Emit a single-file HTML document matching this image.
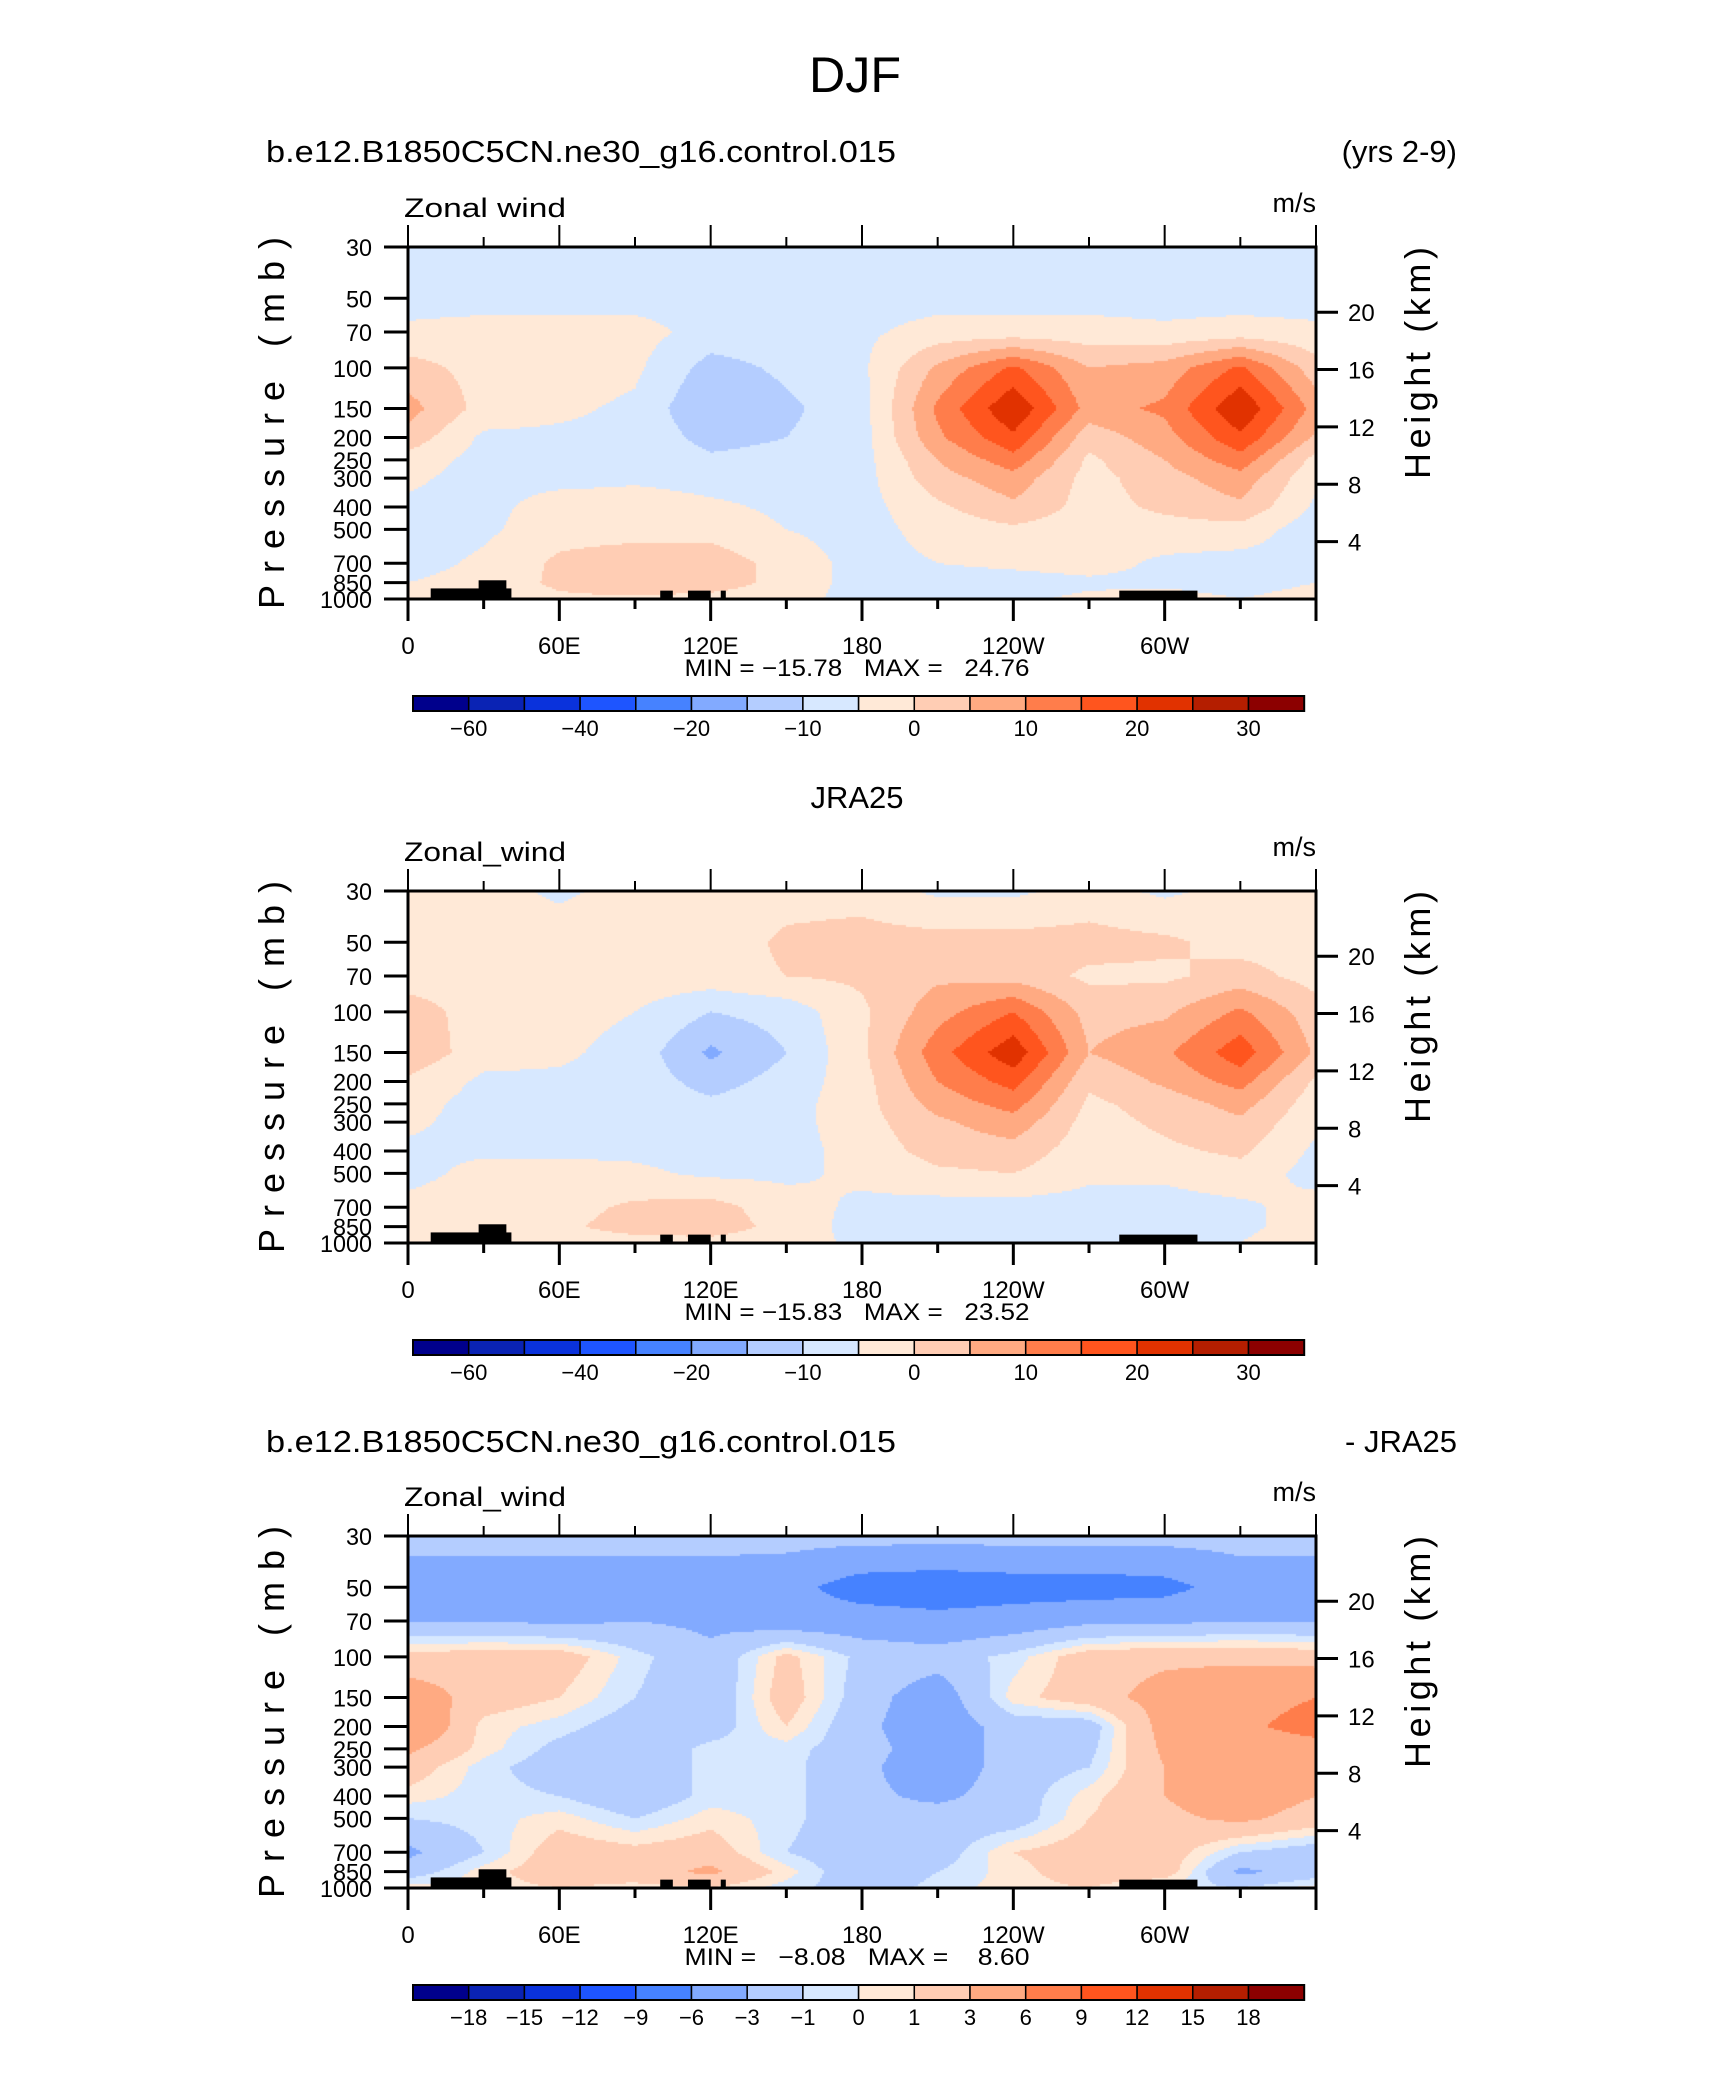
<!DOCTYPE html>
<html><head><meta charset="utf-8"><style>
html,body{margin:0;padding:0;background:#fff;}
#root{position:relative;width:1710px;height:2074px;overflow:hidden;background:#fff;font-family:"Liberation Sans",sans-serif;}
canvas{position:absolute;}
svg{position:absolute;left:0;top:0;}
</style></head><body>
<div id="root">
<canvas id="c1"></canvas>
<canvas id="c2"></canvas>
<canvas id="c3"></canvas>
<svg id="svg" width="1710" height="2074"></svg>
</div>
<script>
// ---- data ----
const lons = [0,30,60,90,120,150,180,210,240,270,300,330,360];
const plevs = [30,50,70,100,150,200,250,300,400,500,700,850,1000];
const levelsMain = [-60,-50,-40,-30,-20,-15,-10,-5,0,5,10,15,20,25,30];
const levelsDiff = [-18,-15,-12,-9,-6,-3,-1,0,1,3,6,9,12,15,18];
const labelsMain = ["-60","","-40","","-20","","-10","","0","","10","","20","","30"];
const labelsDiff = ["-18","-15","-12","-9","-6","-3","-1","0","1","3","6","9","12","15","18"];
const colors = ["#00008c","#0a23b4","#0a32dc","#1e55ff","#4682ff","#82aaff","#b4cdff","#d7e8ff","#ffe9d7","#ffcdb4","#ffaa82","#ff7d4b","#ff551e","#e13200","#b41e00","#8c0000"];
const xTickLabels = ["0","60E","120E","180","120W","60W",""];
const pTicks = [30,50,70,100,150,200,250,300,400,500,700,850,1000];
const zTicks = [4,8,12,16,20];
const topo = [[9,41,900],[28,39,830],[100,105,920],[111,120,920],[124,126,920],[282,313,920]];
const ctl = [
[-7,-7,-7,-7,-7,-7,-7,-7,-7,-7,-7,-7,-7],
[-7,-7,-7,-7,-7,-7,-7,-7,-7,-7,-7,-7,-7],
[-4,-3,-3,-3,-7,-7,-6,-3,-3,-3,-4,-3,-4],
[2,-2,-2,-4,-12,-9,-6,6,16,5,7,16,2],
[7,-2,-4,-6,-15,-11,-7,11,24.5,8,11,24.5,8],
[3,-6,-6,-6,-12,-10,-7,9,19,2,8,19,4],
[-2,-7,-7,-6,-9,-8,-7,5,13,-1,5,13,-2],
[-4,-7,-7,-6,-7,-7,-7,3,8,-2,3,8,-4],
[-6,-7,-2,-2,-4,-6,-7,-1,4,-2,1,4,-6],
[-8,-6,-2,-2,-2,-5,-7,-3,-1,-3,-2,-2,-8],
[-7,-4,1,3,3,-2,-7,-5,-4,-3,-6,-7,-7],
[-5,-3,1,4,3,-2,-7,-7,-7,-6,-6,-7,-5],
[-3,-3,-1,-1,-2,-3,-7,-7,-6,-4,-3,-5,-3]];
const obs = [
[-2,-3,-6,-3,-3,-2,-2,-6,-6,-3,-6,-3,-2],
[-2,-2,-2,-2,-3,1,2,2,2,2,1,-2,-2],
[-2,-2,-2,-2,-2,0,1,4,3,-1,-1,2,-2],
[2,-2,-3,-5,-10,-8,-1,8,15,3,4,11,2],
[4,-3,-4,-7,-16,-10,-1,13,23.5,5,9,18,4],
[-1,-6,-6,-7,-12,-8,-2,10,17,1,6,12,-1],
[-3,-7,-7,-7,-9,-7,-2,7,12,-1,2,7,-3],
[-4,-7,-7,-7,-8,-7,-2,4,8,-2,1,4,-4],
[-6,-6,-6,-6,-7,-7,-3,2,3,-3,-1,1,-6],
[-7,-3,-3,-4,-6,-6,-4,-1,0,-4,-4,-2,-7],
[-3,-2,-2,1,2,-3,-6,-7,-7,-7,-7,-6,-3],
[-3,-2,-1,2,3,-2,-7,-7,-7,-7,-6,-6,-3],
[-2,-3,-3,-2,-2,-3,-6,-6,-6,-5,-6,-5,-2]];
const dif = [
[-2,-2,-2,-2,-2,-2,-2,-2,-2,-2,-2,-2,-2],
[-4.5,-4.5,-4.5,-4.5,-4.5,-5,-7.5,-8,-7.5,-7.5,-7,-4.5,-4.5],
[-3,-3,-3.5,-3,-3.5,-4.5,-4.5,-5,-4.5,-3.5,-3.5,-3,-3],
[1.5,2,2,-0.5,-2.5,1.5,-1.5,-2,-0.5,2,2.5,2.5,2],
[4.5,2,1,-1,-2.5,2,-2,-4.5,0.5,2,4,5,6],
[6,0.5,-0.5,-2,-2,1,-2.5,-4.5,-2,-2,4,5.5,7],
[3.5,0.5,-1.5,-2.5,-0.5,-0.5,-2,-4.5,-2,-1.5,3.5,4.5,5],
[2,-0.5,-2,-2.5,-0.5,-0.5,-2.5,-4.5,-2,-1,3,4.5,4],
[0.5,-0.5,-1,-2.5,-0.5,-0.5,-2.5,-3.5,-2,0.5,3,4.5,3],
[-1,-0.5,0.5,-1,0.5,-0.5,-2.5,-2,-2,1,2.5,3.5,2],
[-3.5,-1,2,1.5,2,-1,-2.5,-2,1,2,2,-1,-2],
[-2,0.5,2,2,3.5,0.5,-2.5,-1,0.5,2,2,-3.5,-2],
[0.5,0.5,1,0.5,1,-0.5,-2,-0.5,0.5,1,-0.5,-1,0.5]];

// ---- layout ----
const X0=408, X1=1316, PH=352;
const W=X1-X0;
const NS="http://www.w3.org/2000/svg";
const svg=document.getElementById('svg');
function el(tag,attrs,parent){const e=document.createElementNS(NS,tag);for(const k in attrs)e.setAttribute(k,attrs[k]);(parent||svg).appendChild(e);return e;}
function txt(s,attrs,parent){const e=el('text',attrs,parent);e.textContent=s;return e;}
const lnP=Math.log(1000/30);
function yOfP(p,top){return top+Math.log(p/30)/lnP*PH;}
function xOfLon(l){return X0+l/360*W;}
function binColor(v,levels){let i=0;while(i<levels.length&&v>=levels[i])i++;return colors[i];}
function sample(data,lon,p){
  let i=Math.min(lons.length-2,Math.floor(lon/30));let fx=(lon-lons[i])/30;
  const lp=Math.log(p);let j=0;while(j<plevs.length-2&&Math.log(plevs[j+1])<lp)j++;
  let fy=(lp-Math.log(plevs[j]))/(Math.log(plevs[j+1])-Math.log(plevs[j]));
  fy=Math.max(0,Math.min(1,fy));
  const a=data[j][i],b=data[j][i+1],c=data[j+1][i],d=data[j+1][i+1];
  return (a*(1-fx)+b*fx)*(1-fy)+(c*(1-fx)+d*fx)*fy;
}
function drawField(id,data,levels,top){
  const cv=document.getElementById(id);cv.width=W;cv.height=PH;
  cv.style.left=X0+'px';cv.style.top=top+'px';
  const ctx=cv.getContext('2d');
  for(let y=0;y<PH;y+=2){const p=30*Math.exp((y+1)/PH*lnP);
    for(let x=0;x<W;x+=2){const lon=(x+1)/W*360;
      ctx.fillStyle=binColor(sample(data,lon,p),levels);ctx.fillRect(x,y,2,2);}}
}
function panel(cfg){
  const top=cfg.top,g=el('g',{});
  
  
  drawField(cfg.canvas,cfg.data,cfg.levels,top);
  const bot=top+PH;
  topo.forEach(t=>{const r=el('rect',{x:xOfLon(t[0]),y:yOfP(t[2],top),width:xOfLon(t[1])-xOfLon(t[0]),height:bot-yOfP(t[2],top),fill:'#000'},g);
    
    });
  el('rect',{x:X0,y:top,width:W,height:PH,fill:'none',stroke:'#000','stroke-width':3},g);
  for(let k=0;k<=12;k++){const x=xOfLon(k*30),L=k%2==0?22:10;
    el('line',{x1:x,y1:bot,x2:x,y2:bot+L,stroke:'#000','stroke-width':3},g);
    el('line',{x1:x,y1:top,x2:x,y2:top-L,stroke:'#000','stroke-width':2},g);}
  xTickLabels.forEach((s,k)=>{if(s){const t=txt(s,{x:xOfLon(k*60),y:bot+55,'font-size':24,'text-anchor':'middle',fill:'#000'},g);
    
    }});
  pTicks.forEach(p=>{const y=yOfP(p,top);el('line',{x1:X0-24,y1:y,x2:X0,y2:y,stroke:'#000','stroke-width':3},g);
    const t=txt(String(p),{x:X0-36,y:y+9,'font-size':24,'text-anchor':'end',fill:'#000',textLength:String(p).length*13,lengthAdjust:'spacingAndGlyphs'},g);
    
    });
  zTicks.forEach(z=>{const y=yOfP(1000*Math.exp(-z/7),top);el('line',{x1:X1,y1:y,x2:X1+22,y2:y,stroke:'#000','stroke-width':3},g);
    const t=txt(String(z),{x:X1+32,y:y+9,'font-size':24,fill:'#000'},g);
    
    });
  let t=txt('Pressure  (mb)',{x:0,y:0,'font-size':36,'text-anchor':'middle',fill:'#000',textLength:372,lengthAdjust:'spacing',transform:`translate(284 ${top+176}) rotate(-90)`},g);
  
  
  t=txt('Height  (km)',{x:0,y:0,'font-size':36,'text-anchor':'middle',fill:'#000',textLength:232,lengthAdjust:'spacing',transform:`translate(1430 ${top+116}) rotate(-90)`},g);
  
  
  t=txt(cfg.varname,{x:404,y:top-30,'font-size':27,fill:'#000',textLength:162,lengthAdjust:'spacingAndGlyphs'},g);
  
  
  t=txt('m/s',{x:X1,y:top-35,'font-size':27,'text-anchor':'end',fill:'#000'},g);
  
  
  t=txt(cfg.minmax,{x:857,y:bot+77,'font-size':24,'text-anchor':'middle',fill:'#000',textLength:345,lengthAdjust:'spacingAndGlyphs'},g);
  
  
  const cy=top+449,cx0=413,bw=55.7;
  colors.forEach((c,i)=>{const r=el('rect',{x:cx0+i*bw,y:cy,width:bw,height:15,fill:c,stroke:'#000','stroke-width':1.5},g);
    
    });
  el('rect',{x:cx0,y:cy,width:bw*16,height:15,fill:'none',stroke:'#000','stroke-width':2},g);
  cfg.labels.forEach((s,i)=>{if(s){const l=txt(s.replace('-','\u2212'),{x:cx0+(i+1)*bw,y:cy+40,'font-size':22,'text-anchor':'middle',fill:'#000'},g);
    
    }});
}
let t=txt('DJF',{x:855,y:92,'font-size':50,'text-anchor':'middle',fill:'#000',textLength:92,lengthAdjust:'spacingAndGlyphs'});


t=txt('b.e12.B1850C5CN.ne30_g16.control.015',{x:266,y:162,'font-size':31,fill:'#000',textLength:630,lengthAdjust:'spacingAndGlyphs'});


t=txt('(yrs 2-9)',{x:1457,y:162,'font-size':31,'text-anchor':'end',fill:'#000'});


t=txt('JRA25',{x:857,y:808,'font-size':31,'text-anchor':'middle',fill:'#000'});


t=txt('b.e12.B1850C5CN.ne30_g16.control.015',{x:266,y:1452,'font-size':31,fill:'#000',textLength:630,lengthAdjust:'spacingAndGlyphs'});


t=txt('- JRA25',{x:1457,y:1452,'font-size':31,'text-anchor':'end',fill:'#000'});


panel({name:'control-panel',canvas:'c1',data:ctl,levels:levelsMain,labels:labelsMain,top:247,varname:'Zonal wind',minmax:'MIN\u00a0=\u00a0\u221215.78\u00a0\u00a0\u00a0MAX\u00a0=\u00a0\u00a0\u00a024.76'});
panel({name:'jra25-panel',canvas:'c2',data:obs,levels:levelsMain,labels:labelsMain,top:891,varname:'Zonal_wind',minmax:'MIN\u00a0=\u00a0\u221215.83\u00a0\u00a0\u00a0MAX\u00a0=\u00a0\u00a0\u00a023.52'});
panel({name:'difference-panel',canvas:'c3',data:dif,levels:levelsDiff,labels:labelsDiff,top:1536,varname:'Zonal_wind',minmax:'MIN\u00a0=\u00a0\u00a0\u00a0\u22128.08\u00a0\u00a0\u00a0MAX\u00a0=\u00a0\u00a0\u00a0\u00a08.60'});
</script>
</body></html>
